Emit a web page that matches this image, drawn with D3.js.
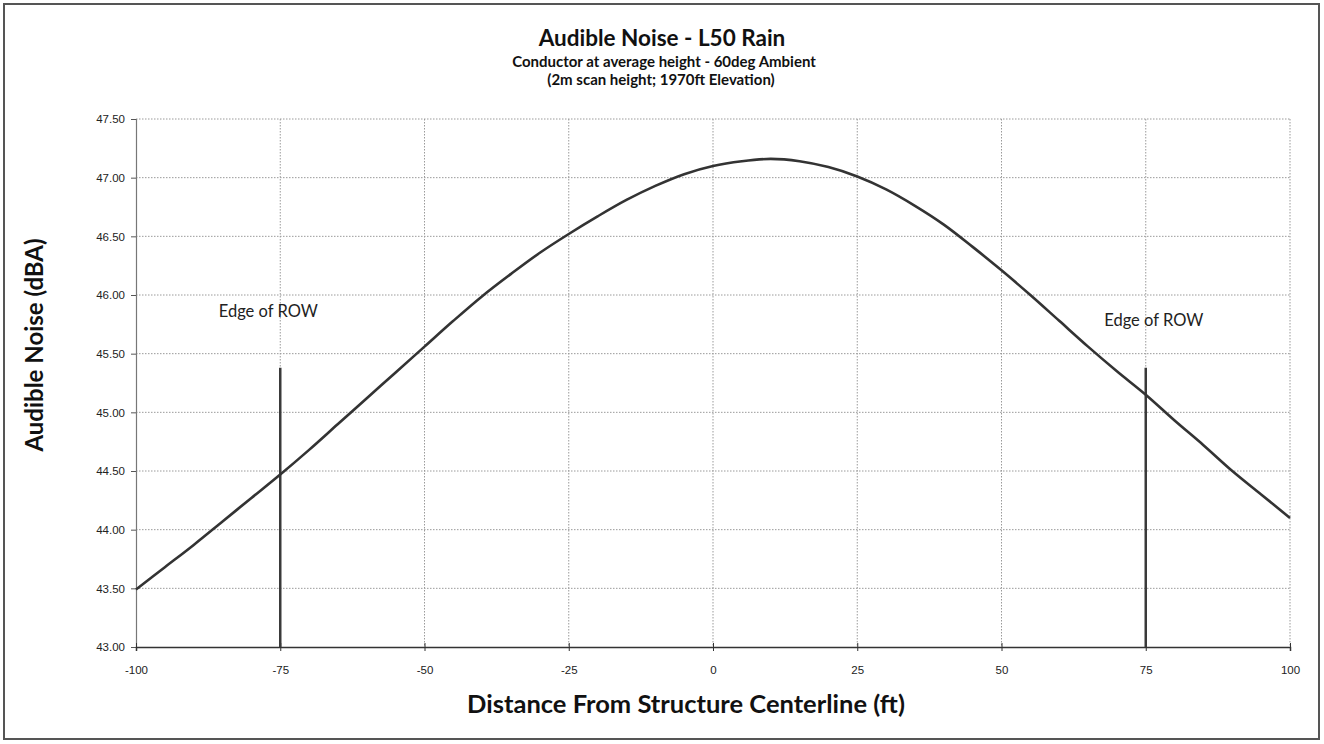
<!DOCTYPE html>
<html><head><meta charset="utf-8">
<script src="https://cdn.jsdelivr.net/npm/d3@7"></script>
<style>
html,body{margin:0;padding:0;background:#fff;}
svg{display:block;}
</style></head>
<body>
<svg id="chart" width="1324" height="744"></svg>
<script>
const distance = [-100,-95,-90,-85,-80,-75,-70,-65,-60,-55,-50,-45,-40,-35,-30,-25,-20,-15,-10,-5,0,5,10,15,20,25,30,35,40,45,50,55,60,65,70,75,80,85,90,95,100];
const noise = [43.49,43.68,43.87,44.07,44.27,44.47,44.68,44.90,45.12,45.34,45.56,45.78,45.99,46.18,46.36,46.52,46.67,46.81,46.93,47.03,47.10,47.14,47.16,47.14,47.09,47.01,46.90,46.76,46.60,46.41,46.21,46.00,45.78,45.56,45.35,45.15,44.93,44.72,44.50,44.30,44.10];
const rowEdges = [-75, 75];
const rowTop = 45.38;
const rowLabel = "Edge of ROW";
const xTicks = [-100,-75,-50,-25,0,25,50,75,100];
const yTicks = [43.0,43.5,44.0,44.5,45.0,45.5,46.0,46.5,47.0,47.5];
const titleText = "Audible Noise - L50 Rain";
const subtitle1 = "Conductor at average height - 60deg Ambient";
const subtitle2 = "(2m scan height; 1970ft Elevation)";
const xTitle = "Distance From Structure Centerline (ft)";
const yTitle = "Audible Noise (dBA)";

const svg = d3.select("#chart");
const W = 1324, H = 744;
const L = 136, R = 1290, T = 119, B = 647;
const x = d3.scaleLinear().domain([-100,100]).range([L,R]);
const y = d3.scaleLinear().domain([43,47.5]).range([B,T]);
const calFont = "Lato, 'Open Sans', sans-serif";
const tickFont = "'Liberation Sans', Arial, sans-serif";

// outer frame
svg.append("rect").attr("x",4).attr("y",4).attr("width",W-9).attr("height",H-9)
  .attr("fill","#fff").attr("stroke","#555").attr("stroke-width",2);

// gridlines
const g = svg.append("g");
g.selectAll("line.hg").data(yTicks.filter(d=>d>43)).enter().append("line")
  .attr("x1",L).attr("x2",R).attr("y1",d=>y(d)).attr("y2",d=>y(d))
  .attr("stroke","#9a9a9a").attr("stroke-width",1).attr("stroke-dasharray","1.5,1.5");
g.selectAll("line.vg").data(xTicks.filter(d=>d>-100)).enter().append("line")
  .attr("x1",d=>x(d)).attr("x2",d=>x(d)).attr("y1",T).attr("y2",B)
  .attr("stroke","#9a9a9a").attr("stroke-width",1).attr("stroke-dasharray","1.5,1.5");

// axes
const yAxis = d3.axisLeft(y).tickValues(yTicks).tickFormat(d3.format(".2f")).tickSize(5).tickPadding(6);
const yg = svg.append("g").attr("transform",`translate(${L},0)`).call(yAxis);
yg.select(".domain").attr("stroke","#777").attr("stroke-width",1.2);
yg.selectAll(".tick line").attr("stroke","#555");
yg.selectAll("text").attr("font-family",tickFont).attr("font-size",11.5).attr("fill","#222");

const xAxis = d3.axisBottom(x).tickValues(xTicks).tickFormat(d => String(d)).tickSize(4).tickPadding(15);
const xg = svg.append("g").attr("transform",`translate(0,${B})`).call(xAxis);
xg.select(".domain").attr("stroke","#333").attr("stroke-width",1.5);
xg.selectAll(".tick line").attr("stroke","#333").attr("y1",-4);
xg.selectAll("text").attr("font-family",tickFont).attr("font-size",11.5).attr("fill","#222");

// ROW lines
svg.selectAll("line.row").data(rowEdges).enter().append("line")
  .attr("x1",d=>x(d)).attr("x2",d=>x(d)).attr("y1",y(43)).attr("y2",y(rowTop))
  .attr("stroke","#3a3a3a").attr("stroke-width",2.5);

// curve
const line = d3.line().x((d,i)=>x(distance[i])).y(d=>y(d)).curve(d3.curveCatmullRom.alpha(0.5));
svg.append("path").datum(noise).attr("d",line).attr("fill","none")
  .attr("stroke","#333").attr("stroke-width",2.6);

// ROW labels
svg.append("text").attr("x",x(rowEdges[0])-12).attr("y",317).attr("text-anchor","middle")
  .attr("font-family",calFont).attr("font-size",16.5).attr("fill","#222").text(rowLabel);
svg.append("text").attr("x",x(rowEdges[1])+8).attr("y",326).attr("text-anchor","middle")
  .attr("font-family",calFont).attr("font-size",16.5).attr("fill","#222").text(rowLabel);

// titles
svg.append("text").attr("x",662).attr("y",46).attr("text-anchor","middle")
  .attr("font-family",calFont).attr("font-weight","bold").attr("font-size",22.5).attr("fill","#111").text(titleText);
svg.append("text").attr("x",664).attr("y",67).attr("text-anchor","middle")
  .attr("font-family",calFont).attr("font-weight","bold").attr("font-size",15).attr("fill","#111").text(subtitle1);
svg.append("text").attr("x",661).attr("y",85).attr("text-anchor","middle")
  .attr("font-family",calFont).attr("font-weight","bold").attr("font-size",15).attr("fill","#111").text(subtitle2);
svg.append("text").attr("x",686).attr("y",713).attr("text-anchor","middle")
  .attr("font-family",calFont).attr("font-weight","bold").attr("font-size",25.5).attr("fill","#111").text(xTitle);
svg.append("text").attr("transform","translate(43,345) rotate(-90)").attr("text-anchor","middle")
  .attr("font-family",calFont).attr("font-weight","bold").attr("font-size",24).attr("fill","#111").text(yTitle);
</script>
</body></html>
